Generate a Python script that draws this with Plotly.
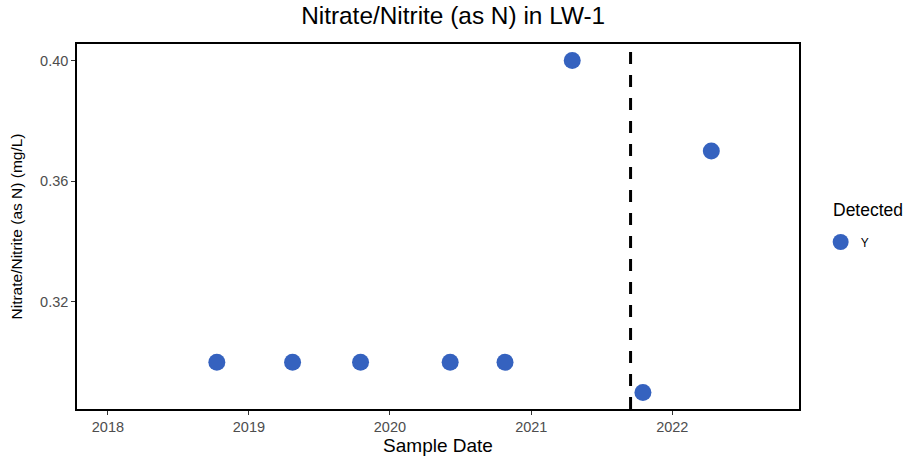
import plotly.graph_objects as go

# Sample results for LW-1
sample_dates = [
    "2018-10-10", "2019-04-24", "2019-10-17", "2020-06-05",
    "2020-10-25", "2021-04-17", "2021-10-17", "2022-04-12",
]
nitrate_mg_l = [0.30, 0.30, 0.30, 0.30, 0.30, 0.40, 0.29, 0.37]
detected = ["Y"] * len(sample_dates)

# Reference date marked with the dashed line
marker_date = "2021-09-15"

y_ticks = [0.32, 0.36, 0.40]
x_ticks = ["2018-01-01", "2019-01-01", "2020-01-01", "2021-01-01", "2022-01-01"]
x_tick_labels = ["2018", "2019", "2020", "2021", "2022"]

FONT = "Arial, 'Liberation Sans', sans-serif"
BLUE = "#3562BF"

fig = go.Figure()

fig.add_trace(go.Scatter(
    x=sample_dates,
    y=nitrate_mg_l,
    mode="markers",
    name=detected[0],
    marker=dict(size=17, color=BLUE, line=dict(width=0)),
    showlegend=True,
))

fig.add_shape(
    type="line",
    xref="x", yref="paper",
    x0=marker_date, x1=marker_date, y0=0, y1=1,
    line=dict(color="black", width=3, dash="12px,11px"),
)

# Legend heading
fig.add_annotation(
    text="Detected",
    xref="paper", yref="paper",
    x=1.045, y=0.545, xanchor="left", yanchor="middle",
    showarrow=False,
    font=dict(size=17.5, color="black", family=FONT),
)

fig.update_layout(
    width=909, height=462,
    margin=dict(l=77, r=110, t=44, b=53, autoexpand=False),
    paper_bgcolor="white",
    plot_bgcolor="white",
    font=dict(family=FONT, color="black"),
    title=dict(
        text="Nitrate/Nitrite (as N) in LW-1",
        x=0.521, xref="paper", xanchor="center",
        y=1, yref="container", yanchor="top", pad=dict(t=7),
        font=dict(size=24.4, color="black", family=FONT),
    ),
    legend=dict(
        x=1.03, xanchor="left", y=0.4575, yanchor="middle",
        font=dict(size=12, color="black"),
        bgcolor="rgba(0,0,0,0)",
        itemwidth=30,
        tracegroupgap=0,
    ),
)

fig.update_xaxes(
    type="date",
    range=["2017-10-13", "2022-11-25"],
    tickvals=x_ticks,
    ticktext=x_tick_labels,
    ticks="outside", ticklen=4, tickwidth=1, tickcolor="#333333",
    tickfont=dict(size=14.5, color="#4d4d4d"),
    showgrid=False, zeroline=False,
    showline=True, linecolor="black", linewidth=1.5, mirror=True,
    title=dict(text="Sample Date", font=dict(size=19, color="black"), standoff=2),
)

fig.update_yaxes(
    range=[0.2845, 0.4055],
    tickvals=y_ticks,
    tickformat=".2f",
    ticks="outside", ticklen=4, tickwidth=1, tickcolor="#333333",
    tickfont=dict(size=14.5, color="#4d4d4d"),
    showgrid=False, zeroline=False,
    showline=True, linecolor="black", linewidth=1.5, mirror=True,
    title=dict(text="Nitrate/Nitrite (as N) (mg/L)", font=dict(size=15.5, color="black"), standoff=14),
)

fig.write_html("out.html")
